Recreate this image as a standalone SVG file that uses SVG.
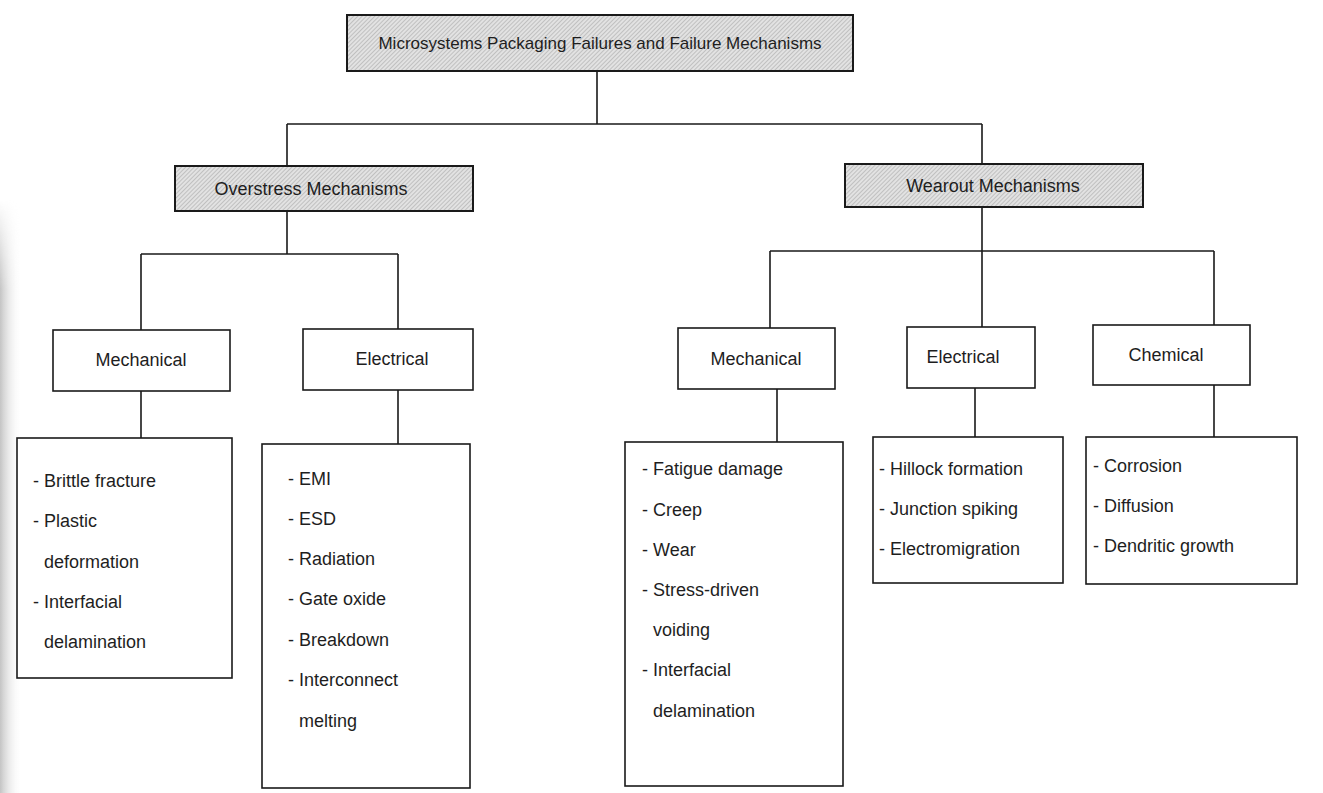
<svg xmlns="http://www.w3.org/2000/svg" width="1323" height="793" viewBox="0 0 1323 793">
  <defs>
    <!-- diagonal hatch used by the heading boxes -->
    <pattern id="hatch" width="3" height="3" patternUnits="userSpaceOnUse" patternTransform="rotate(45)">
      <rect width="3" height="3" fill="#e2e2e2"/>
      <line x1="0" y1="0" x2="0" y2="3" stroke="#a9a9a9" stroke-width="1.2"/>
    </pattern>
    <linearGradient id="binding" x1="0" y1="0" x2="1" y2="0">
      <stop offset="0" stop-color="#c4c4c4"/>
      <stop offset="1" stop-color="#ffffff" stop-opacity="0"/>
    </linearGradient>
    <linearGradient id="bindingFade" x1="0" y1="0" x2="0" y2="1">
      <stop offset="0" stop-color="#ffffff" stop-opacity="0"/>
      <stop offset="0.15" stop-color="#ffffff" stop-opacity="1"/>
      <stop offset="1" stop-color="#ffffff" stop-opacity="1"/>
    </linearGradient>
    <mask id="gutterMask">
      <rect x="0" y="200" width="30" height="593" fill="url(#bindingFade)"/>
    </mask>
    <style>
      .head { fill: url(#hatch); stroke: #1a1a1a; stroke-width: 2; }
      .box { fill: #ffffff; stroke: #1a1a1a; stroke-width: 1.6; }
      .wire { fill: none; stroke: #1a1a1a; stroke-width: 1.6; }
      text { font-family: "Liberation Sans", Arial, sans-serif; font-size: 18px; fill: #1e1e1e; }
      .title { font-size: 17px; }
      .mid { text-anchor: middle; }
    </style>
  </defs>

  <rect width="1323" height="793" fill="#ffffff"/>
  <!-- page gutter shading along the left edge -->
  <rect x="0" y="200" width="22" height="593" fill="url(#binding)" mask="url(#gutterMask)"/>

  <!-- connectors -->
  <g id="connectors" class="wire">
    <path d="M597 71 V124 M287 124 H982 M287 124 V166 M982 124 V164"/>
    <path d="M287 211 V254 M141 254 H398 M141 254 V330 M398 254 V329"/>
    <path d="M141 391 V438 M398 390 V444"/>
    <path d="M982 207 V327 M770 251 H1214 M770 251 V328 M1214 251 V325"/>
    <path d="M777 389 V442 M975 388 V437 M1214 385 V437"/>
  </g>

  <g id="root">
    <rect class="head" x="347" y="15" width="506" height="56"/>
    <text class="title mid" x="600" y="49">Microsystems Packaging Failures and Failure Mechanisms</text>
  </g>

  <g id="overstress">
    <rect class="head" x="175" y="166" width="298" height="45"/>
    <text class="mid" x="311" y="195">Overstress Mechanisms</text>
  </g>

  <g id="wearout">
    <rect class="head" x="845" y="164" width="298" height="43"/>
    <text class="mid" x="993" y="192">Wearout Mechanisms</text>
  </g>

  <g id="os-mechanical">
    <rect class="box" x="53" y="330" width="177" height="61"/>
    <text class="mid" x="141" y="366">Mechanical</text>
  </g>

  <g id="os-electrical">
    <rect class="box" x="303" y="329" width="170" height="61"/>
    <text class="mid" x="392" y="365">Electrical</text>
  </g>

  <g id="os-mechanical-list">
    <rect class="box" x="17" y="438" width="215" height="240"/>
    <text x="33" y="487">- Brittle fracture</text>
    <text x="33" y="527">- Plastic</text>
    <text x="44" y="568">deformation</text>
    <text x="33" y="608">- Interfacial</text>
    <text x="44" y="648">delamination</text>
  </g>

  <g id="os-electrical-list">
    <rect class="box" x="262" y="444" width="208" height="344"/>
    <text x="288" y="485">- EMI</text>
    <text x="288" y="525">- ESD</text>
    <text x="288" y="565">- Radiation</text>
    <text x="288" y="605">- Gate oxide</text>
    <text x="288" y="646">- Breakdown</text>
    <text x="288" y="686">- Interconnect</text>
    <text x="299" y="727">melting</text>
  </g>

  <g id="wo-mechanical">
    <rect class="box" x="678" y="328" width="157" height="61"/>
    <text class="mid" x="756" y="365">Mechanical</text>
  </g>

  <g id="wo-electrical">
    <rect class="box" x="907" y="327" width="128" height="61"/>
    <text class="mid" x="963" y="363">Electrical</text>
  </g>

  <g id="wo-chemical">
    <rect class="box" x="1093" y="325" width="157" height="60"/>
    <text class="mid" x="1166" y="361">Chemical</text>
  </g>

  <g id="wo-mechanical-list">
    <rect class="box" x="625" y="442" width="218" height="344"/>
    <text x="642" y="475">- Fatigue damage</text>
    <text x="642" y="516">- Creep</text>
    <text x="642" y="556">- Wear</text>
    <text x="642" y="596">- Stress-driven</text>
    <text x="653" y="636">voiding</text>
    <text x="642" y="676">- Interfacial</text>
    <text x="653" y="717">delamination</text>
  </g>

  <g id="wo-electrical-list">
    <rect class="box" x="873" y="437" width="190" height="146"/>
    <text x="879" y="475">- Hillock formation</text>
    <text x="879" y="515">- Junction spiking</text>
    <text x="879" y="555">- Electromigration</text>
  </g>

  <g id="wo-chemical-list">
    <rect class="box" x="1086" y="437" width="211" height="147"/>
    <text x="1093" y="472">- Corrosion</text>
    <text x="1093" y="512">- Diffusion</text>
    <text x="1093" y="552">- Dendritic growth</text>
  </g>
</svg>
